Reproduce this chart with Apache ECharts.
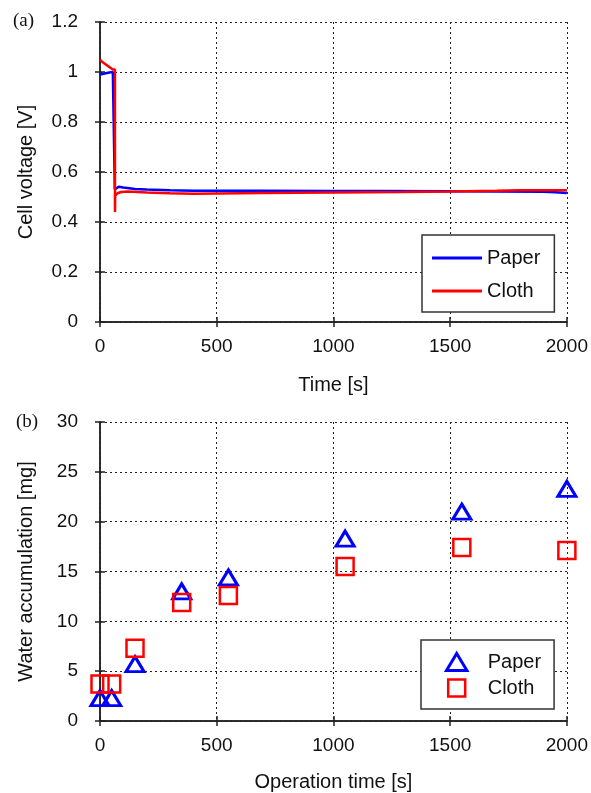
<!DOCTYPE html>
<html>
<head>
<meta charset="utf-8">
<script src="https://cdn.jsdelivr.net/npm/echarts@6/dist/echarts.min.js"></script>
<style>
html,body{margin:0;padding:0;background:#fff;}
#chart{width:591px;height:793px;}
</style>
</head>
<body>
<div id="chart"></div>
<script>
// Panel (a): cell voltage vs time
const paperTime    = [0, 10, 20, 30, 40, 55, 63, 63.5, 70, 80, 100, 150, 200, 300, 400, 500, 700, 1000, 1200, 1500, 1700, 1900, 1950, 2000];
const paperVoltage = [0.99, 0.992, 0.994, 0.996, 0.998, 1.0, 1.0, 0.53, 0.537, 0.541, 0.538, 0.532, 0.53, 0.527, 0.525, 0.525, 0.525, 0.524, 0.524, 0.523, 0.522, 0.521, 0.519, 0.516];
const clothTime    = [0, 5, 10, 18, 25, 33, 40, 48, 55, 64, 64.2, 65, 75, 90, 120, 200, 300, 400, 500, 700, 1000, 1300, 1500, 1700, 1800, 2000];
const clothVoltage = [1.05, 1.045, 1.04, 1.035, 1.03, 1.025, 1.02, 1.015, 1.01, 1.01, 0.44, 0.505, 0.515, 0.52, 0.522, 0.518, 0.515, 0.513, 0.514, 0.516, 0.518, 0.52, 0.522, 0.525, 0.527, 0.527];
// Panel (b): water accumulation vs operation time
const operationTime = [0, 50, 150, 350, 550, 1050, 1550, 2000];
const paperWater    = [2.3, 2.3, 5.7, 13.0, 14.4, 18.3, 21.0, 23.3];
const clothWater    = [3.7, 3.7, 7.3, 11.9, 12.6, 15.5, 17.4, 17.1];
const voltageTicks = [0, 0.2, 0.4, 0.6, 0.8, 1.0, 1.2];
const waterTicks   = [0, 5, 10, 15, 20, 25, 30];
const timeTicks    = [0, 500, 1000, 1500, 2000];

const FONT = "'Liberation Sans', Arial, sans-serif";
const SERIF = "'Liberation Serif', 'DejaVu Serif', serif";
const FS = 19;
const BLUE = '#0000ff', RED = '#ff0000';
const axisLine = {show: true, lineStyle: {color: '#222', width: 1.5}};
const tick = {show: true, inside: true, length: 5, lineStyle: {color: '#222', width: 1.5}};
const grid = {show: true, lineStyle: {color: '#222', type: [2, 3], width: 1}};
const lab = {color: '#111', fontSize: FS, fontFamily: FONT, formatter: v => String(v)};
const nameStyle = {color: '#111', fontSize: 20, fontFamily: FONT};

function xAxes(gi, name, gap) {
  const iv = timeTicks[1] - timeTicks[0];
  return [
    {gridIndex: gi, type: 'value', min: timeTicks[0], max: timeTicks[timeTicks.length - 1], interval: iv, position: 'bottom',
     axisLine, axisTick: tick, splitLine: grid, axisLabel: Object.assign({margin: 15}, lab),
     name, nameLocation: 'middle', nameGap: gap, nameTextStyle: nameStyle},
    {gridIndex: gi, type: 'value', min: timeTicks[0], max: timeTicks[timeTicks.length - 1], interval: iv, position: 'top',
     axisLine, axisTick: tick, splitLine: {show: false}, axisLabel: {show: false}}
  ];
}
function yAxes(gi, ticks, name) {
  const iv = ticks[1] - ticks[0];
  return [
    {gridIndex: gi, type: 'value', min: ticks[0], max: ticks[ticks.length - 1], interval: iv, position: 'left',
     axisLine, axisTick: tick, splitLine: grid, axisLabel: Object.assign({margin: 22}, lab),
     name, nameLocation: 'middle', nameGap: 64, nameTextStyle: nameStyle},
    {gridIndex: gi, type: 'value', min: ticks[0], max: ticks[ticks.length - 1], interval: iv, position: 'right',
     axisLine, axisTick: tick, splitLine: {show: false}, axisLabel: {show: false}}
  ];
}
const zip = (a, b) => a.map((v, i) => [v, b[i]]);
const lineIcon = 'path://M0,0 L50,0 L50,3 L0,3 Z';
const triIcon = 'path://M9,0 L18,15 L0,15 Z';
const sqIcon = 'path://M0,0 L16,0 L16,16 L0,16 Z';

const chart = echarts.init(document.getElementById('chart'), null, {renderer: 'canvas'});
chart.setOption({
  animation: false,
  backgroundColor: '#fff',
  grid: [
    {left: 100, top: 22, width: 468, height: 300},
    {left: 100, top: 422, width: 468, height: 300}
  ],
  xAxis: [...xAxes(0, 'Time [s]', 53), ...xAxes(1, 'Operation time [s]', 51)],
  yAxis: [...yAxes(0, voltageTicks, 'Cell voltage [V]'), ...yAxes(1, waterTicks, 'Water accumulation [mg]')],
  legend: [
    {data: [
       {name: 'Paper_a', icon: lineIcon, itemStyle: {color: BLUE, borderWidth: 0}, lineStyle: {width: 0}},
       {name: 'Cloth_a', icon: lineIcon, itemStyle: {color: RED, borderWidth: 0}, lineStyle: {width: 0}}],
     orient: 'vertical', left: 422, top: 235,
     padding: [12, 14, 10, 10], itemGap: 11, itemWidth: 50, itemHeight: 14,
     borderColor: '#333', borderWidth: 1.5, borderRadius: 0, backgroundColor: '#fff',
     formatter: n => n.split('_')[0],
     textStyle: {fontSize: 20, fontFamily: FONT, color: '#111', lineHeight: 22}},
    {data: [
       {name: 'Paper_b', icon: triIcon, itemStyle: {borderWidth: 3}},
       {name: 'Cloth_b', icon: sqIcon, itemStyle: {borderWidth: 2.5}}],
     orient: 'vertical', left: 421, top: 640,
     padding: [11, 13, 10, 24], itemGap: 4, itemWidth: 52, itemHeight: 17,
     borderColor: '#333', borderWidth: 1.5, borderRadius: 0, backgroundColor: '#fff',
     formatter: n => n.split('_')[0],
     textStyle: {fontSize: 20, fontFamily: FONT, color: '#111', lineHeight: 22}}
  ],
  graphic: [
    {type: 'text', left: 13, top: 12, style: {text: '(a)', fontSize: 19, fontFamily: SERIF, fill: '#111'}},
    {type: 'text', left: 16, top: 413, style: {text: '(b)', fontSize: 19, fontFamily: SERIF, fill: '#111'}}
  ],
  series: [
    {name: 'Paper_a', type: 'line', xAxisIndex: 0, yAxisIndex: 0, data: zip(paperTime, paperVoltage),
     symbol: 'none', lineStyle: {color: BLUE, width: 2.5}, itemStyle: {color: BLUE}, z: 2},
    {name: 'Cloth_a', type: 'line', xAxisIndex: 0, yAxisIndex: 0, data: zip(clothTime, clothVoltage),
     symbol: 'none', lineStyle: {color: RED, width: 2.5}, itemStyle: {color: RED}, z: 3},
    {name: 'Paper_b', type: 'scatter', xAxisIndex: 2, yAxisIndex: 2, data: zip(operationTime, paperWater),
     symbol: 'triangle', symbolSize: [18, 15],
     itemStyle: {color: 'rgba(0,0,0,0)', borderColor: BLUE, borderWidth: 3, opacity: 1}},
    {name: 'Cloth_b', type: 'scatter', xAxisIndex: 2, yAxisIndex: 2, data: zip(operationTime, clothWater),
     symbol: 'rect', symbolSize: 17,
     itemStyle: {color: 'rgba(0,0,0,0)', borderColor: RED, borderWidth: 2.5, opacity: 1}}
  ]
});
</script>
</body>
</html>
